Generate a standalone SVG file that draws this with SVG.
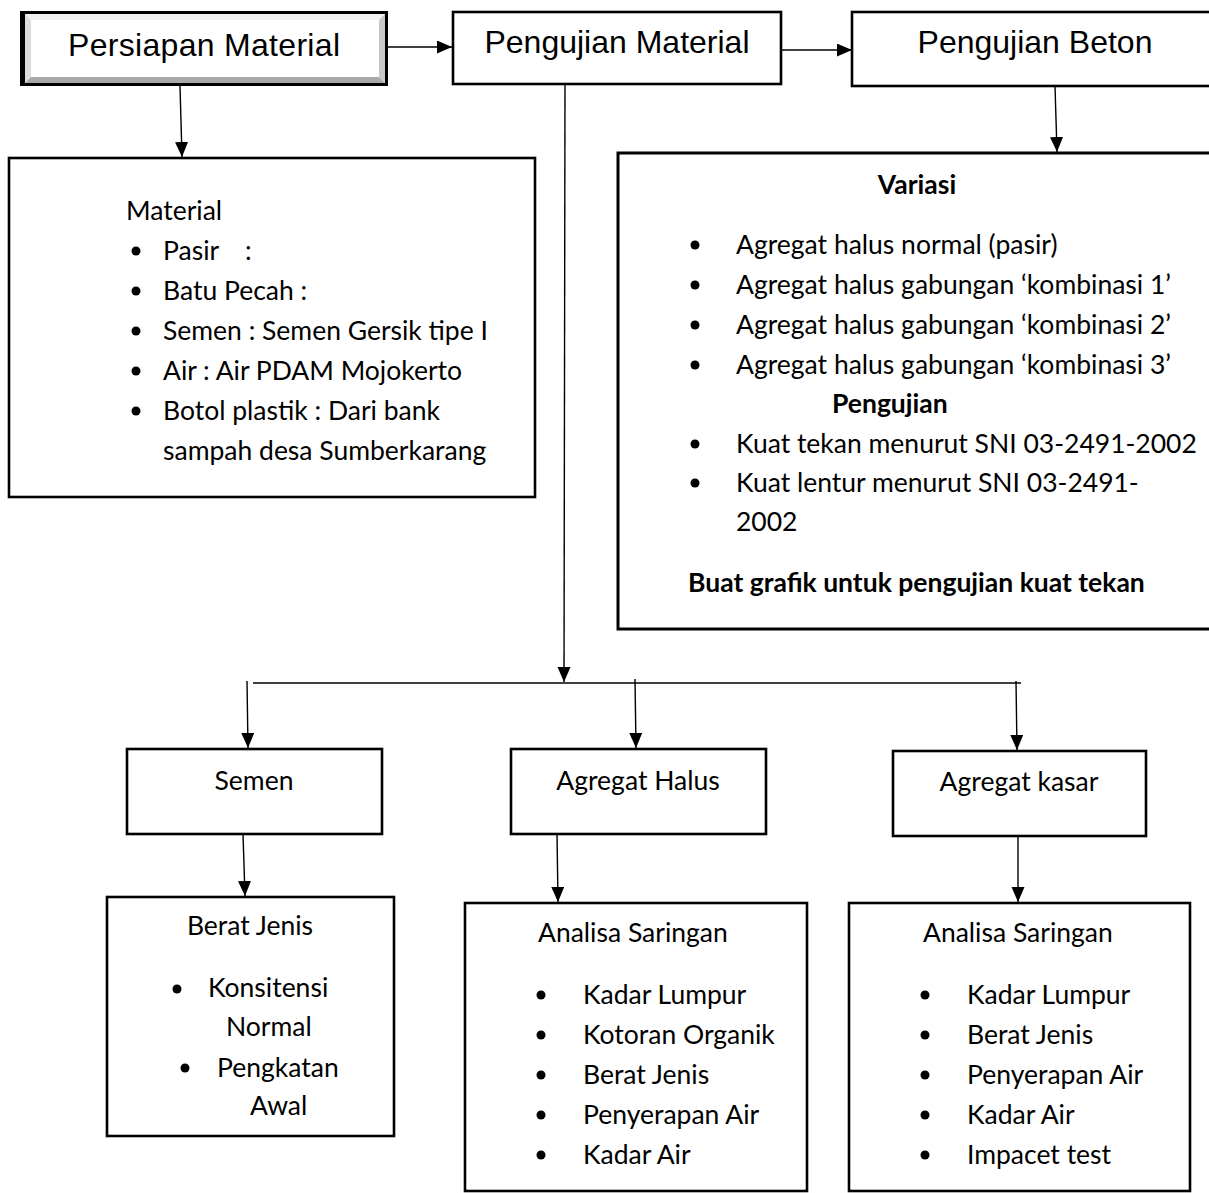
<svg xmlns="http://www.w3.org/2000/svg" width="1209" height="1193" viewBox="0 0 1209 1193">
<defs>
<marker id="ah" markerUnits="userSpaceOnUse" markerWidth="16" markerHeight="14" refX="15" refY="6.5" orient="auto">
<path d="M0,0 L15,6.5 L0,13 z" fill="#000"/>
</marker>
<style>
.box{fill:#fff;stroke:#000;stroke-width:2.6}
.big{font-family:"Liberation Sans",Arial,sans-serif;font-size:32px;fill:#000}
.t{font-family:Lato,"Open Sans",sans-serif;font-size:26.5px;fill:#000}
.b{font-weight:bold}
.c{text-anchor:middle}
.con{stroke:#000;stroke-width:1.4;fill:none}
.arr{marker-end:url(#ah)}
.dot{fill:#000}
</style>
</defs>
<rect width="1209" height="1193" fill="#fff"/>

<g id="connectors">
<line class="con arr" x1="385" y1="47" x2="452" y2="47"/>
<line class="con arr" x1="779" y1="50" x2="852" y2="50"/>
<line class="con arr" x1="180" y1="86" x2="182" y2="157"/>
<line class="con arr" x1="1055" y1="86" x2="1057" y2="152"/>
<line class="con arr" x1="565" y1="85" x2="564" y2="682"/>
<line class="con" x1="253" y1="683" x2="1021" y2="683"/>
<line class="con arr" x1="247" y1="681" x2="248" y2="748"/>
<line class="con arr" x1="635" y1="679" x2="636" y2="748"/>
<line class="con arr" x1="1016" y1="681" x2="1017" y2="750"/>
<line class="con arr" x1="243" y1="834" x2="245" y2="896"/>
<line class="con arr" x1="557" y1="834" x2="558" y2="902"/>
<line class="con arr" x1="1018" y1="836" x2="1018" y2="902"/>
</g>

<g id="persiapan-material">
<rect x="20" y="11" width="368" height="75" fill="#000"/>
<rect x="25" y="14" width="360" height="69" fill="#fff"/>
<polygon points="25,14 385,14 379,20 31,20" fill="#f2f2f2"/>
<polygon points="25,14 31,20 31,77 25,83" fill="#dcdcdc"/>
<polygon points="385,14 385,83 379,77 379,20" fill="#c8c8c8"/>
<polygon points="25,83 385,83 379,77 31,77" fill="#a9a9a9"/>
<text class="big c" x="204" y="56" textLength="272">Persiapan Material</text>
</g>

<g id="pengujian-material">
<rect class="box" x="453" y="12" width="328" height="72"/>
<text class="big c" x="617" y="53">Pengujian Material</text>
</g>

<g id="pengujian-beton">
<rect class="box" x="852" y="12" width="362" height="74"/>
<text class="big c" x="1035" y="53">Pengujian Beton</text>
</g>

<g id="material">
<rect class="box" x="9" y="158" width="526" height="339"/>
<text class="t" x="126" y="220">Material</text>
<circle class="dot" cx="136" cy="251" r="4.5"/><text class="t" x="163" y="260">Pasir<tspan x="245">:</tspan></text>
<circle class="dot" cx="136" cy="291" r="4.5"/><text class="t" x="163" y="300">Batu Pecah :</text>
<circle class="dot" cx="136" cy="331" r="4.5"/><text class="t" x="163" y="340">Semen : Semen Gersik tipe I</text>
<circle class="dot" cx="136" cy="371" r="4.5"/><text class="t" x="163" y="380">Air : Air PDAM Mojokerto</text>
<circle class="dot" cx="136" cy="411" r="4.5"/><text class="t" x="163" y="420">Botol plastik : Dari bank</text>
<text class="t" x="163" y="460">sampah desa Sumberkarang</text>
</g>

<g id="variasi">
<rect class="box" x="618" y="153" width="596" height="476" style="stroke-width:3"/>
<text class="t b c" x="917" y="194">Variasi</text>
<circle class="dot" cx="695" cy="245" r="4.5"/><text class="t" x="736" y="254">Agregat halus normal (pasir)</text>
<circle class="dot" cx="695" cy="285" r="4.5"/><text class="t" x="736" y="294">Agregat halus gabungan ‘kombinasi 1’</text>
<circle class="dot" cx="695" cy="325" r="4.5"/><text class="t" x="736" y="334">Agregat halus gabungan ‘kombinasi 2’</text>
<circle class="dot" cx="695" cy="365" r="4.5"/><text class="t" x="736" y="374">Agregat halus gabungan ‘kombinasi 3’</text>
<text class="t b" x="832" y="413">Pengujian</text>
<circle class="dot" cx="695" cy="444" r="4.5"/><text class="t" x="736" y="453">Kuat tekan menurut SNI 03-2491-2002</text>
<circle class="dot" cx="695" cy="483" r="4.5"/><text class="t" x="736" y="492">Kuat lentur menurut SNI 03-2491-</text>
<text class="t" x="736" y="531">2002</text>
<text class="t b" x="688" y="592">Buat grafik untuk pengujian kuat tekan</text>
</g>

<g id="semen">
<rect class="box" x="127" y="749" width="255" height="85"/>
<text class="t c" x="254" y="790">Semen</text>
</g>

<g id="agregat-halus">
<rect class="box" x="511" y="749" width="255" height="85"/>
<text class="t c" x="638" y="790">Agregat Halus</text>
</g>

<g id="agregat-kasar">
<rect class="box" x="893" y="751" width="253" height="85"/>
<text class="t c" x="1019" y="791">Agregat kasar</text>
</g>

<g id="berat-jenis">
<rect class="box" x="107" y="897" width="287" height="239"/>
<text class="t c" x="250" y="935">Berat Jenis</text>
<circle class="dot" cx="177" cy="989" r="4.5"/><text class="t" x="208" y="997">Konsitensi</text>
<text class="t" x="226" y="1036">Normal</text>
<circle class="dot" cx="185" cy="1068" r="4.5"/><text class="t" x="217" y="1077">Pengkatan</text>
<text class="t" x="250" y="1115">Awal</text>
</g>

<g id="analisa-halus">
<rect class="box" x="465" y="903" width="342" height="288"/>
<text class="t" x="538" y="942">Analisa Saringan</text>
<circle class="dot" cx="541" cy="995" r="4.5"/><text class="t" x="583" y="1004">Kadar Lumpur</text>
<circle class="dot" cx="541" cy="1035" r="4.5"/><text class="t" x="583" y="1044">Kotoran Organik</text>
<circle class="dot" cx="541" cy="1075" r="4.5"/><text class="t" x="583" y="1084">Berat Jenis</text>
<circle class="dot" cx="541" cy="1115" r="4.5"/><text class="t" x="583" y="1124">Penyerapan Air</text>
<circle class="dot" cx="541" cy="1155" r="4.5"/><text class="t" x="583" y="1164">Kadar Air</text>
</g>

<g id="analisa-kasar">
<rect class="box" x="849" y="903" width="341" height="288"/>
<text class="t" x="923" y="942">Analisa Saringan</text>
<circle class="dot" cx="925" cy="995" r="4.5"/><text class="t" x="967" y="1004">Kadar Lumpur</text>
<circle class="dot" cx="925" cy="1035" r="4.5"/><text class="t" x="967" y="1044">Berat Jenis</text>
<circle class="dot" cx="925" cy="1075" r="4.5"/><text class="t" x="967" y="1084">Penyerapan Air</text>
<circle class="dot" cx="925" cy="1115" r="4.5"/><text class="t" x="967" y="1124">Kadar Air</text>
<circle class="dot" cx="925" cy="1155" r="4.5"/><text class="t" x="967" y="1164">Impacet test</text>
</g>
</svg>
